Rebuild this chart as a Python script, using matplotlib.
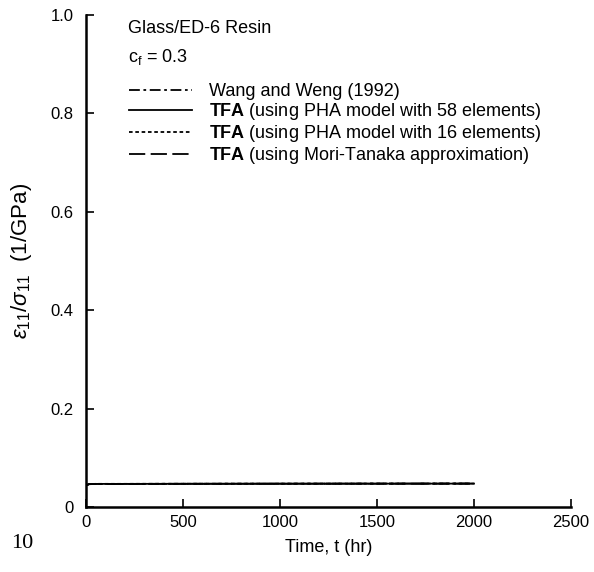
import matplotlib.pyplot as plt
from matplotlib.lines import Line2D

plt.rcParams['font.family'] = ['Liberation Sans', 'DejaVu Sans']
plt.rcParams['mathtext.fontset'] = 'custom'
plt.rcParams['mathtext.rm'] = 'Liberation Sans'
plt.rcParams['mathtext.it'] = 'Liberation Sans:italic'
plt.rcParams['mathtext.bf'] = 'Liberation Sans:bold'

# creep compliance, glass/ED-6 resin, c_f = 0.3
t_hr = [0, 15, 50, 200, 500, 1000, 1500, 2000]
wang_weng = [0.044, 0.0465, 0.047, 0.047, 0.0472, 0.0474, 0.0476, 0.0477]
tfa_pha58 = [0.044, 0.0465, 0.047, 0.047, 0.0472, 0.0474, 0.0475, 0.0476]
tfa_pha16 = [0.044, 0.0466, 0.0471, 0.0471, 0.0473, 0.0475, 0.0476, 0.0477]
tfa_mt = [0.044, 0.0464, 0.0469, 0.0469, 0.0471, 0.0473, 0.0474, 0.0475]

labels = ["Wang and Weng (1992)",
          r"$\mathbf{TFA}$ (using PHA model with 58 elements)",
          r"$\mathbf{TFA}$ (using PHA model with 16 elements)",
          r"$\mathbf{TFA}$ (using Mori-Tanaka approximation)"]
xticks = [0, 500, 1000, 1500, 2000, 2500]
yticks = [0, 0.2, 0.4, 0.6, 0.8, 1.0]
yticklabels = ["0", "0.2", "0.4", "0.6", "0.8", "1.0"]

styles = [(0, (6, 2, 1.5, 2)), '-', (0, (2, 1.5)), (0, (9, 3))]

fig = plt.figure(figsize=(5.94, 5.72), dpi=100)
ax = fig.add_axes([0.1448, 0.1136, 0.8165, 0.860])

series = [wang_weng, tfa_pha58, tfa_pha16, tfa_mt]
for vals, ls in zip(series, styles):
    ax.plot(t_hr, vals, color='black', lw=1.3, linestyle=ls)

ax.set_xlim(0, 2500)
ax.set_ylim(0, 1.0)
ax.set_xticks(xticks)
ax.set_yticks(yticks)
ax.set_yticklabels(yticklabels)
ax.tick_params(direction='in', length=6, width=1.2, labelsize=12)
ax.tick_params(axis='y', pad=9)
ax.tick_params(axis='x', pad=6)
ax.spines['top'].set_visible(False)
ax.spines['right'].set_visible(False)
for s in ('left', 'bottom'):
    ax.spines[s].set_linewidth(1.8)

ax.set_xlabel("Time, t (hr)", fontsize=13, labelpad=6)
ax.set_ylabel(r"$\varepsilon_{11}/\sigma_{11}$  (1/GPa)", fontsize=16, labelpad=12)

ax.text(0.0866, 0.9736, "Glass/ED-6 Resin", transform=ax.transAxes, fontsize=13,
        va='center')
ax.text(0.0866, 0.9146, r"c$_\mathregular{f}$ = 0.3", transform=ax.transAxes, fontsize=13,
        va='center')

handles = [Line2D([], [], color='black', lw=1.3, linestyle=ls) for ls in styles]
ax.legend(handles, labels, loc='upper left', bbox_to_anchor=(0.074, 0.876),
          frameon=False, fontsize=13, handlelength=3.5, handletextpad=0.9,
          labelspacing=0.05, borderaxespad=0)

fig.text(0.018, 0.042, "10", family='Liberation Serif', fontsize=16)

fig.savefig("out.png", dpi=100)
